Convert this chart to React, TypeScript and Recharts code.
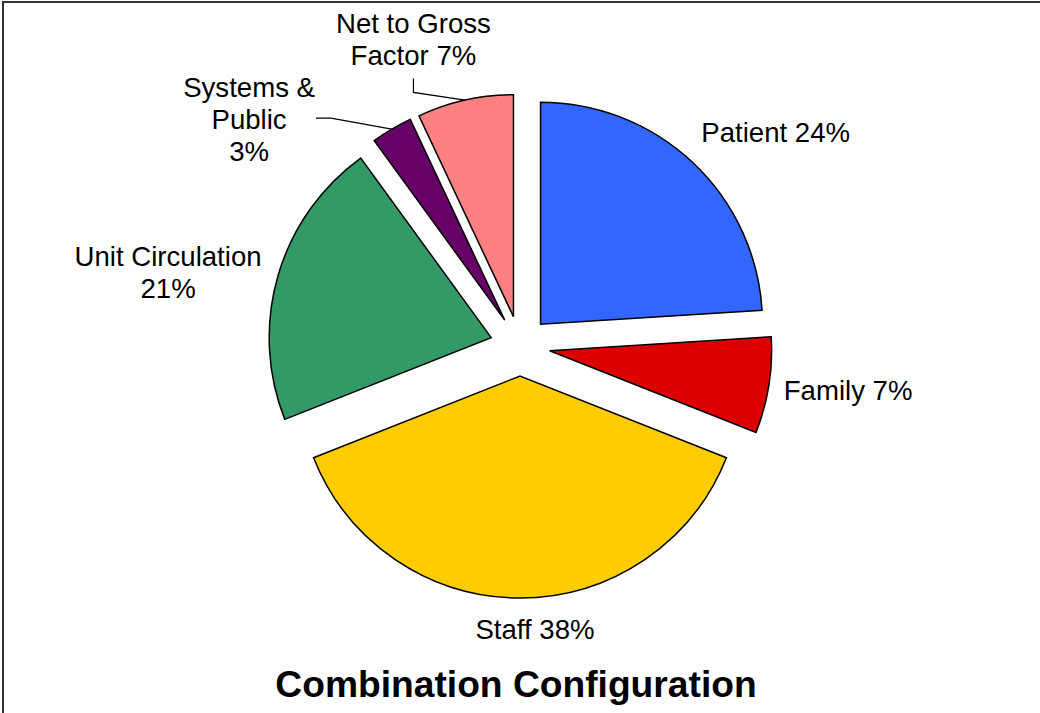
import { PieChart, Pie, Cell, Sector } from 'recharts'

const categories = ['Patient', 'Family', 'Staff', 'Unit Circulation', 'Systems & Public', 'Net to Gross Factor']
const shares = [24, 7, 38, 21, 3, 7]
const colors = ['#3366FF', '#DD0000', '#FFCC00', '#339966', '#660066', '#FF8080']
const labelLines = [
  ['Patient 24%'],
  ['Family 7%'],
  ['Staff 38%'],
  ['Unit Circulation', '21%'],
  ['Systems &', 'Public', '3%'],
  ['Net to Gross', 'Factor 7%'],
]

const data = categories.map((name, i) => ({ name, value: shares[i] }))

const RAD = Math.PI / 180
const EXPLODE = 30
const FONT = 27.6
const LINE = 32
const FONT_FAMILY = '"Liberation Sans", Arial, sans-serif'

// labels that were dragged by hand in the original
const nudges: Record<string, { dx: number, dy: number, leader?: boolean }> = {
  'Patient': { dx: 3, dy: -3 },
  'Staff': { dx: 15, dy: 0 },
  'Unit Circulation': { dx: -2, dy: 10 },
  'Systems & Public': { dx: -96, dy: 51, leader: true },
  'Net to Gross Factor': { dx: -31, dy: -14, leader: true },
}

let ctx: CanvasRenderingContext2D | null = null
function textWidth(s: string) {
  if (!ctx) ctx = document.createElement('canvas').getContext('2d')
  if (!ctx) return s.length * FONT * 0.55
  ctx.font = `${FONT}px ${FONT_FAMILY}`
  return ctx.measureText(s).width
}

function ExplodedSector(props: any) {
  const { cx, cy, midAngle } = props
  const a = -midAngle * RAD
  return <Sector {...props} cx={cx + EXPLODE * Math.cos(a)} cy={cy + EXPLODE * Math.sin(a)} />
}

function renderLabel(props: any) {
  const { cx, cy, midAngle, outerRadius, index } = props
  const lines = labelLines[index]
  const nudge = nudges[categories[index]] || { dx: 0, dy: 0 }
  const ux = Math.cos(-midAngle * RAD)
  const uy = Math.sin(-midAngle * RAD)
  const m = Math.max(Math.abs(ux), Math.abs(uy))
  const r = outerRadius + EXPLODE + 15
  const px = cx + r * ux
  const py = cy + r * uy
  const w = Math.max(...lines.map(textWidth))
  const h = lines.length * LINE
  const bx = px + (w / 2) * ux / m + nudge.dx
  const by = py + (h / 2) * uy / m + nudge.dy
  const top = by - h / 2

  let leader = null
  if (nudge.leader) {
    const sx = cx + (outerRadius + EXPLODE) * ux
    const sy = cy + (outerRadius + EXPLODE) * uy
    let pts: number[][]
    if (bx + w / 2 < sx) pts = [[sx, sy], [bx + w / 2 + 16, by - 1], [bx + w / 2 + 1, by - 1]]
    else if (bx - w / 2 > sx) pts = [[sx, sy], [bx - w / 2 - 16, by - 1], [bx - w / 2 - 1, by - 1]]
    else pts = [[sx, sy], [bx, top + h + 21], [bx, top + h + 7]]
    leader = <polyline points={pts.map(p => p.join(',')).join(' ')} fill="none" stroke="#000" strokeWidth={1.2} />
  }

  return (
    <g>
      {leader}
      <text textAnchor="middle" fontFamily={FONT_FAMILY} fontSize={FONT} fill="#000">
        {lines.map((l, i) => (
          <tspan key={i} x={bx} y={top + i * LINE + 25.7}>{l}</tspan>
        ))}
      </text>
    </g>
  )
}

export default function App() {
  return (
    <div style={{ position: 'absolute', left: 0, top: 0, width: 1040, height: 713, background: '#fff', overflow: 'hidden' }}>
      <div style={{ position: 'absolute', left: 2, top: 1, width: 1060, height: 740, borderLeft: '2px solid #333', borderTop: '2px solid #333' }} />
      <PieChart width={1040} height={713} margin={{ top: 0, right: 0, bottom: 0, left: 0 }}>
        <Pie
          data={data}
          dataKey="value"
          nameKey="name"
          cx={520}
          cy={346}
          outerRadius={222}
          startAngle={90}
          endAngle={-270}
          stroke="#000"
          strokeWidth={1.5}
          shape={ExplodedSector}
          activeShape={ExplodedSector}
          inactiveShape={ExplodedSector}
          label={renderLabel}
          labelLine={false}
          isAnimationActive={false}
        >
          {data.map((d, i) => <Cell key={d.name} fill={colors[i]} />)}
        </Pie>
      </PieChart>
      <div style={{ position: 'absolute', left: 0, top: 666, width: 1032, textAlign: 'center', fontFamily: FONT_FAMILY, fontWeight: 'bold', fontSize: 37.2, lineHeight: '37px', color: '#000' }}>
        Combination Configuration
      </div>
    </div>
  )
}
